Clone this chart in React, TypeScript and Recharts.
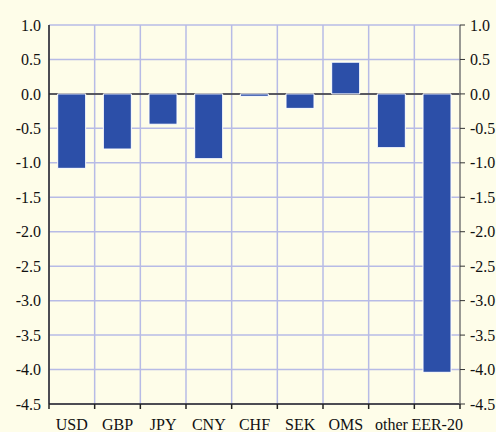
import { ComposedChart, Bar, Line, XAxis, YAxis, CartesianGrid, ReferenceLine } from 'recharts'

// currency contributions
const currencies = ['USD', 'GBP', 'JPY', 'CNY', 'CHF', 'SEK', 'OMS', 'other', 'EER-20']
const contributions = [-1.08, -0.8, -0.44, -0.94, -0.035, -0.21, 0.46, -0.78, -4.04]
const yTicks = [1, 0.5, 0, -0.5, -1, -1.5, -2, -2.5, -3, -3.5, -4, -4.5]

const data = currencies.map((name, i) => ({ name, value: contributions[i] }))

const W = 496
const H = 432
const LEFT = 49
const RIGHT = 36
const band = (W - LEFT - RIGHT) / currencies.length

const FONT = 'Liberation Serif, Times New Roman, serif'

const leftTick = (props: any) => {
  const { x, y, payload } = props
  return (
    <text x={x} y={y} dy="0.35em" textAnchor="end" fill="#111" fontSize={16} fontFamily={FONT}>
      {Number(payload.value).toFixed(1)}
    </text>
  )
}

const rightTick = (props: any) => {
  const { x, y, payload } = props
  return (
    <text x={x} y={y} dy="0.35em" textAnchor="start" fill="#111" fontSize={16} fontFamily={FONT}>
      {Number(payload.value).toFixed(1)}
    </text>
  )
}

const XTick = ({ x, y, payload, index }: any) => {
  const last = index === currencies.length - 1
  return (
    <g>
      <line x1={x - band / 2} x2={x - band / 2} y1={y} y2={y + 5} stroke="#222" strokeWidth={1.5} />
      {last && <line x1={x + band / 2} x2={x + band / 2} y1={y} y2={y + 5} stroke="#222" strokeWidth={1.5} />}
      <text x={x} y={y + 26} textAnchor="middle" fill="#111" fontSize={16} fontFamily={FONT}>
        {payload.value}
      </text>
    </g>
  )
}

export default function App() {
  return (
    <div style={{ position: 'absolute', left: 0, top: 0, width: W, height: H, background: '#fefde9' }}>
      <ComposedChart
        width={W}
        height={H}
        data={data}
        margin={{ top: 25, right: 0, bottom: 0, left: 0 }}
        barCategoryGap="19%"
      >
        <CartesianGrid
          stroke="#b7bbe6"
          strokeWidth={1.5}
          yAxisId="a"
          verticalCoordinatesGenerator={({ offset }: any) =>
            currencies.map((_, i) => offset.left + i * (offset.width / currencies.length))
          }
        />
        <XAxis
          dataKey="name"
          height={28}
          axisLine={{ stroke: '#222', strokeWidth: 1.5 }}
          tickLine={false}
          tickSize={0}
          tickMargin={0}
          tick={<XTick />}
          interval={0}
        />
        <YAxis
          yAxisId="a"
          domain={[-4.5, 1]}
          ticks={yTicks}
          width={LEFT}
          axisLine={{ stroke: '#222', strokeWidth: 1.5 }}
          tickLine={false}
          tick={leftTick}
        />
        <YAxis
          yAxisId="b"
          orientation="right"
          domain={[-4.5, 1]}
          ticks={yTicks}
          width={RIGHT}
          axisLine={{ stroke: '#777', strokeWidth: 1.5 }}
          tickLine={{ stroke: '#333' }}
          tickSize={5}
          tickMargin={5}
          tick={rightTick}
        />
        {/* zero line sits under the bars so their white outline breaks it */}
        <ReferenceLine y={0} yAxisId="a" stroke="#333" strokeWidth={1.5} zIndex={250} />
        <Bar
          dataKey="value"
          yAxisId="a"
          fill="#2c4fa8"
          stroke="#ffffff"
          strokeWidth={1}
          isAnimationActive={false}
        />
        {/* invisible series so the right axis has something bound to it */}
        <Line
          dataKey="value"
          yAxisId="b"
          stroke="none"
          dot={false}
          activeDot={false}
          legendType="none"
          isAnimationActive={false}
        />
      </ComposedChart>
    </div>
  )
}
